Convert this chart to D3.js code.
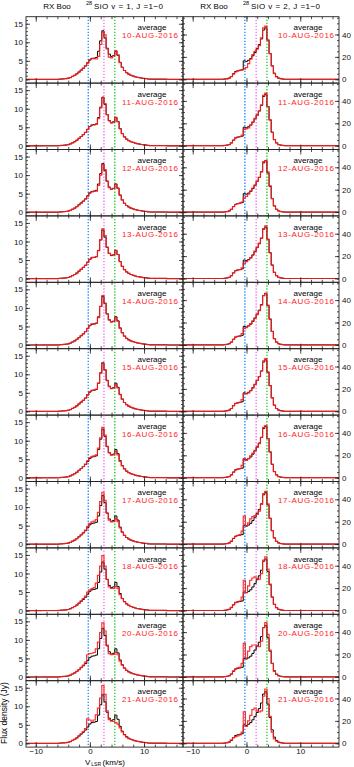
<!DOCTYPE html>
<html>
<head>
<meta charset="utf-8">
<script src="https://cdn.jsdelivr.net/npm/d3@7"></script>
<style>
body { margin: 0; background: #fff; }
svg { display: block; font-family: "Liberation Sans", Arial, sans-serif; }
.axis path { display: none; }
.axis line { stroke: #222; stroke-width: 0.8; }
.axis text { fill: #111; font-size: 8px; }
</style>
</head>
<body>
<svg class="chart"></svg>
<script>
var svgWidth = 354, svgHeight = 767,
    top0 = 16.7, panelH = 66.4,
    cols = [{x: 26, w: 157}, {x: 183, w: 156}];

var dates = ['10-AUG-2016', '11-AUG-2016', '12-AUG-2016', '13-AUG-2016', '14-AUG-2016', '15-AUG-2016',
             '16-AUG-2016', '17-AUG-2016', '18-AUG-2016', '20-AUG-2016', '21-AUG-2016'];

var xDomain = [-11.8, 17.2],
    xMajor = [-10, 0, 10],
    xMinor = [-10, -8, -6, -4, -2, 0, 2, 4, 6, 8, 10, 12, 14, 16];

// SiO v=1 (left column)
var velV1 = [-6.0, -5.6, -5.2, -4.8, -4.4, -4.0, -3.6, -3.2, -2.8, -2.4, -2.0, -1.6, -1.2, -0.8, -0.4, 0.0,
             0.4, 0.8, 1.2, 1.6, 2.0, 2.4, 2.8, 3.2, 3.6, 4.0, 4.4, 4.8, 5.2, 5.6, 6.0, 6.4, 6.8, 7.2,
             7.6, 8.0, 8.4, 8.8, 9.2, 9.6, 10.0, 10.4, 10.8, 11.2];
var avgV1 = [0, 0.05, 0.1, 0.15, 0.2, 0.3, 0.5, 0.8, 1.1, 1.5, 2.0, 2.5, 3.0, 3.6, 4.4, 5.2, 5.6, 5.7, 5.9, 7.6,
             10.4, 13.1, 11.2, 8.4, 6.8, 6.2, 6.4, 7.6, 6.5, 4.6, 3.3, 2.4, 1.8, 1.4, 1.1, 0.9, 0.7, 0.55,
             0.45, 0.35, 0.25, 0.2, 0.1, 0.05];
var dayV1 = [
  [0.02, 0.06, 0.08, 0.17, 0.21, 0.32, 0.48, 0.82, 1.1, 1.52, 1.98, 2.5, 3.05, 3.7, 4.5, 5.3, 5.7, 5.6, 5.5, 6.2, 9.4, 12.8, 12.0, 8.2, 6.0, 5.8, 6.3, 7.7, 6.6, 4.5, 3.2, 2.4, 1.8, 1.4, 1.1, 0.9, 0.7, 0.55, 0.45, 0.35, 0.25, 0.2, 0.1, 0.05],
  [0.01, 0.05, 0.11, 0.14, 0.22, 0.3, 0.52, 0.8, 1.12, 1.5, 2.02, 2.5, 3.0, 3.6, 4.4, 5.2, 5.6, 5.6, 5.8, 7.3, 10.2, 13.0, 11.4, 8.4, 6.7, 6.2, 6.5, 7.7, 6.5, 4.6, 3.3, 2.4, 1.8, 1.4, 1.1, 0.9, 0.7, 0.55, 0.45, 0.35, 0.25, 0.2, 0.1, 0.05],
  [0.03, 0.04, 0.1, 0.16, 0.19, 0.31, 0.5, 0.78, 1.1, 1.48, 2.0, 2.45, 2.95, 3.5, 4.3, 5.1, 5.5, 5.6, 5.7, 7.2, 10.0, 12.9, 11.5, 8.3, 6.6, 6.2, 6.4, 7.5, 6.4, 4.6, 3.3, 2.4, 1.8, 1.4, 1.1, 0.9, 0.7, 0.55, 0.45, 0.35, 0.25, 0.2, 0.1, 0.05],
  [0.0, 0.06, 0.09, 0.15, 0.2, 0.3, 0.5, 0.8, 1.1, 1.5, 2.0, 2.5, 3.0, 3.6, 4.4, 5.2, 5.7, 5.7, 5.9, 7.5, 10.5, 13.4, 11.6, 8.5, 6.8, 6.3, 6.4, 7.6, 6.5, 4.6, 3.3, 2.4, 1.8, 1.4, 1.1, 0.9, 0.7, 0.55, 0.45, 0.35, 0.25, 0.2, 0.1, 0.05],
  [0.02, 0.05, 0.1, 0.15, 0.21, 0.3, 0.5, 0.8, 1.1, 1.5, 2.0, 2.5, 3.0, 3.6, 4.5, 5.3, 5.7, 5.6, 5.8, 7.4, 10.4, 13.3, 11.3, 8.4, 6.7, 6.2, 6.4, 7.4, 6.4, 4.5, 3.3, 2.4, 1.8, 1.4, 1.1, 0.9, 0.7, 0.55, 0.45, 0.35, 0.25, 0.2, 0.1, 0.05],
  [0.01, 0.05, 0.1, 0.15, 0.2, 0.3, 0.5, 0.8, 1.1, 1.5, 2.0, 2.5, 3.0, 3.6, 4.5, 5.3, 5.7, 5.8, 6.0, 7.6, 10.3, 13.0, 11.2, 8.3, 6.7, 6.1, 6.3, 7.3, 6.3, 4.5, 3.3, 2.4, 1.8, 1.4, 1.1, 0.9, 0.7, 0.55, 0.45, 0.35, 0.25, 0.2, 0.1, 0.05],
  [0.02, 0.05, 0.1, 0.15, 0.2, 0.3, 0.5, 0.8, 1.1, 1.5, 2.0, 2.5, 3.05, 3.7, 4.6, 5.4, 5.8, 5.9, 6.2, 8.0, 10.8, 13.6, 11.5, 8.5, 6.7, 6.1, 6.2, 7.1, 6.2, 4.4, 3.2, 2.4, 1.8, 1.4, 1.1, 0.9, 0.7, 0.55, 0.45, 0.35, 0.25, 0.2, 0.1, 0.05],
  [0.02, 0.05, 0.1, 0.15, 0.2, 0.3, 0.5, 0.8, 1.1, 1.5, 2.0, 2.55, 3.1, 3.8, 4.8, 5.6, 6.0, 6.2, 6.6, 8.6, 11.5, 14.0, 11.8, 8.4, 6.5, 6.0, 6.1, 6.9, 6.1, 4.4, 3.2, 2.4, 1.8, 1.4, 1.1, 0.9, 0.7, 0.55, 0.45, 0.35, 0.25, 0.2, 0.1, 0.05],
  [0.02, 0.05, 0.1, 0.15, 0.2, 0.3, 0.5, 0.8, 1.1, 1.5, 2.0, 2.6, 3.2, 3.9, 5.0, 5.6, 5.9, 6.2, 7.4, 9.5, 12.0, 14.8, 12.0, 8.4, 6.4, 6.0, 6.0, 6.5, 6.0, 4.3, 3.2, 2.4, 1.8, 1.4, 1.1, 0.9, 0.7, 0.55, 0.45, 0.35, 0.25, 0.2, 0.1, 0.05],
  [0.02, 0.05, 0.1, 0.15, 0.2, 0.3, 0.5, 0.8, 1.1, 1.5, 2.0, 2.6, 3.2, 4.0, 6.0, 6.3, 6.4, 6.6, 7.6, 9.4, 12.0, 14.6, 12.4, 8.6, 6.3, 6.0, 6.1, 6.6, 6.0, 4.3, 3.2, 2.4, 1.8, 1.4, 1.1, 0.9, 0.7, 0.55, 0.45, 0.35, 0.25, 0.2, 0.1, 0.05],
  [0.02, 0.05, 0.1, 0.15, 0.2, 0.3, 0.5, 0.8, 1.1, 1.5, 2.0, 2.6, 3.2, 4.0, 6.6, 6.3, 6.0, 6.3, 7.7, 9.5, 12.2, 15.6, 13.2, 8.8, 6.4, 6.0, 5.9, 5.6, 5.2, 4.2, 3.1, 2.3, 1.7, 1.3, 1.05, 0.85, 0.7, 0.55, 0.45, 0.35, 0.25, 0.2, 0.1, 0.05]
];
var linesV1 = [-0.3, 2.6, 4.6];

// SiO v=2 (right column)
var velV2 = [-4.4, -4.0, -3.6, -3.2, -2.8, -2.4, -2.0, -1.6, -1.2, -0.8, -0.4, 0.0, 0.4, 0.8, 1.2, 1.6,
             2.0, 2.4, 2.8, 3.2, 3.6, 4.0, 4.4, 4.8, 5.2, 5.6, 6.0, 6.4, 6.8, 7.2];
var avgV2 = [0, 0.2, 0.5, 1.0, 2.5, 5.0, 7.0, 7.6, 8.0, 8.5, 16.5, 16.0, 17.0, 18.5, 21.0, 24.0, 27.5, 31.0,
             36.0, 44.0, 46.0, 35.0, 23.0, 12.0, 5.5, 2.5, 1.0, 0.5, 0.2, 0];
var dayV2 = [
  [0, 0.3, 0.4, 1.1, 2.3, 4.6, 6.5, 7.5, 8.0, 8.5, 9.0, 10.5, 14.0, 18.0, 22.0, 25.0, 27.0, 30.0, 37.0, 46.0, 47.5, 35.0, 23.0, 12.0, 5.0, 2.2, 1.0, 0.5, 0.2, 0],
  [0, 0.2, 0.5, 1.0, 2.6, 5.0, 7.0, 7.6, 8.2, 9.5, 14.5, 15.0, 16.0, 18.5, 21.0, 24.5, 27.0, 31.0, 36.5, 45.0, 47.0, 35.0, 23.0, 12.0, 5.5, 2.4, 1.0, 0.5, 0.2, 0],
  [0, 0.2, 0.5, 1.0, 2.4, 4.8, 6.8, 7.5, 8.0, 9.0, 12.5, 14.0, 16.0, 19.0, 21.5, 24.0, 27.5, 31.0, 36.0, 45.0, 46.0, 36.0, 23.5, 12.0, 5.5, 2.5, 1.0, 0.5, 0.2, 0],
  [0, 0.2, 0.5, 1.0, 2.5, 5.0, 7.0, 7.7, 8.0, 9.5, 13.5, 15.0, 16.5, 18.5, 21.0, 24.5, 28.0, 31.5, 36.0, 44.5, 47.0, 35.0, 23.0, 12.0, 5.5, 2.5, 1.0, 0.5, 0.2, 0],
  [0, 0.2, 0.5, 1.0, 2.5, 5.0, 7.0, 7.6, 7.8, 10.0, 14.5, 15.5, 17.0, 19.0, 21.5, 24.0, 27.0, 30.5, 35.5, 44.0, 46.0, 35.5, 23.0, 12.0, 5.5, 2.5, 1.0, 0.5, 0.2, 0],
  [0, 0.2, 0.5, 1.0, 2.5, 5.0, 7.0, 7.6, 8.0, 10.5, 15.5, 15.5, 16.5, 18.5, 21.0, 24.0, 27.5, 31.0, 36.0, 45.0, 47.0, 35.0, 23.0, 12.0, 5.5, 2.5, 1.0, 0.5, 0.2, 0],
  [0, 0.2, 0.5, 1.0, 2.5, 5.0, 7.0, 7.7, 8.2, 11.0, 17.0, 15.5, 17.0, 19.5, 22.0, 24.5, 27.0, 30.5, 36.0, 45.0, 46.5, 35.0, 23.0, 12.0, 5.5, 2.5, 1.0, 0.5, 0.2, 0],
  [0, 0.2, 0.5, 1.0, 2.6, 5.2, 7.0, 7.8, 8.5, 11.5, 25.0, 16.5, 19.0, 22.5, 24.5, 25.5, 26.5, 29.5, 35.5, 45.0, 47.0, 36.0, 23.0, 12.0, 5.5, 2.5, 1.0, 0.5, 0.2, 0],
  [0, 0.2, 0.5, 1.0, 2.7, 5.3, 7.2, 8.0, 8.5, 12.0, 27.0, 16.0, 22.0, 27.0, 29.0, 30.0, 28.5, 28.0, 33.0, 45.0, 48.0, 37.0, 23.5, 12.0, 5.5, 2.5, 1.0, 0.5, 0.2, 0],
  [0, 0.2, 0.5, 1.0, 2.7, 5.3, 7.2, 8.0, 8.5, 12.0, 30.0, 17.0, 23.0, 27.0, 28.5, 28.5, 27.5, 27.0, 32.0, 44.0, 48.5, 38.0, 24.0, 12.0, 5.0, 2.3, 1.0, 0.5, 0.2, 0],
  [0, 0.3, 0.6, 1.2, 3.0, 5.0, 6.0, 6.5, 7.5, 10.0, 28.0, 15.0, 20.0, 25.0, 30.0, 31.5, 29.0, 28.0, 29.0, 42.0, 48.5, 40.0, 24.0, 10.0, 4.0, 2.0, 1.0, 0.5, 0.2, 0]
];
var linesV2 = [-0.3, 1.8, 3.8];

var lineColors = ['#2b8fff', '#f07af0', '#33cc33'];

var columns = [
  {vel: velV1, avg: avgV1, days: dayV1, lines: linesV1, yDomain: [-1.0, 16.9],
   yMajor: [0, 5, 10, 15], yMinor: d3.range(0, 17, 1), title: 'SiO v = 1, J =1\u22120'},
  {vel: velV2, avg: avgV2, days: dayV2, lines: linesV2, yDomain: [-3.4, 55.9],
   yMajor: [0, 20, 40], yMinor: d3.range(0, 56, 5), title: 'SiO v = 2, J =1\u22120'}
];

var svg = d3.select('.chart')
    .attr('width', svgWidth)
    .attr('height', svgHeight);

var toSeries = function(vel, vals) {
  var s = vel.map(function(v, i) { return {v: v, f: vals[i]}; });
  return [{v: xDomain[0], f: 0}].concat(s, [{v: xDomain[1], f: 0}]);
};

columns.forEach(function(col, c) {
  var geo = cols[c];
  var xScale = d3.scaleLinear().domain(xDomain).range([0, geo.w]);
  var yScale = d3.scaleLinear().domain(col.yDomain).range([panelH, 0]);
  var line = d3.line()
      .x(function(d) { return xScale(d.v); })
      .y(function(d) { return yScale(d.f); })
      .curve(d3.curveStep);

  svg.append('clipPath').attr('id', 'clip' + c)
    .append('rect').attr('width', geo.w).attr('height', panelH);

  dates.forEach(function(date, p) {
    var last = p === dates.length - 1;
    var g = svg.append('g')
        .attr('transform', 'translate(' + geo.x + ',' + (top0 + p * panelH) + ')');

    // marker velocities
    g.selectAll('.vline')
      .data(col.lines)
      .enter().append('line')
        .attr('x1', function(d) { return xScale(d); })
        .attr('x2', function(d) { return xScale(d); })
        .attr('y1', 0).attr('y2', panelH)
        .attr('stroke', function(d, i) { return lineColors[i]; })
        .attr('stroke-width', 1.4)
        .attr('stroke-dasharray', '1.4,1.6');

    var spectra = g.append('g').attr('clip-path', 'url(#clip' + c + ')');
    spectra.append('path')
      .datum(toSeries(col.vel, col.avg))
      .attr('d', line)
      .attr('fill', 'none')
      .attr('stroke', '#000')
      .attr('stroke-width', 1);
    spectra.append('path')
      .datum(toSeries(col.vel, col.days[p]))
      .attr('d', line)
      .attr('fill', 'none')
      .attr('stroke', '#ff1c1c')
      .attr('stroke-opacity', 0.9)
      .attr('stroke-width', 1.2);

    // frame
    g.append('rect')
      .attr('width', geo.w).attr('height', panelH)
      .attr('fill', 'none').attr('stroke', '#222').attr('stroke-width', 0.9);

    // x ticks, top and bottom
    g.append('g').attr('class', 'axis')
      .call(d3.axisTop(xScale).tickValues(xMinor).tickSize(-2.5).tickFormat(''));
    g.append('g').attr('class', 'axis')
      .call(d3.axisTop(xScale).tickValues(xMajor).tickSize(-5).tickFormat(''));
    g.append('g').attr('class', 'axis').attr('transform', 'translate(0,' + panelH + ')')
      .call(d3.axisBottom(xScale).tickValues(xMinor).tickSize(-2.5).tickFormat(''));
    g.append('g').attr('class', 'axis').attr('transform', 'translate(0,' + panelH + ')')
      .call(d3.axisBottom(xScale).tickValues(xMajor).tickSize(-5).tickPadding(1.5)
        .tickFormat(last ? d3.format('d') : ''));

    // y ticks, left and right
    var labelLeft = c === 0, labelRight = c === 1;
    g.append('g').attr('class', 'axis')
      .call(d3.axisLeft(yScale).tickValues(col.yMinor).tickSize(-2).tickFormat(''));
    g.append('g').attr('class', 'axis')
      .call(d3.axisLeft(yScale).tickValues(col.yMajor).tickSize(-4).tickPadding(3)
        .tickFormat(labelLeft ? d3.format('d') : ''));
    g.append('g').attr('class', 'axis').attr('transform', 'translate(' + geo.w + ',0)')
      .call(d3.axisRight(yScale).tickValues(col.yMinor).tickSize(-2).tickFormat(''));
    g.append('g').attr('class', 'axis').attr('transform', 'translate(' + geo.w + ',0)')
      .call(d3.axisRight(yScale).tickValues(col.yMajor).tickSize(-4).tickPadding(3)
        .tickFormat(labelRight ? d3.format('d') : ''));

    g.append('text')
      .attr('x', geo.w - 31).attr('y', 13.8)
      .attr('text-anchor', 'middle')
      .attr('font-size', '8px').attr('fill', '#000')
      .text('average');
    g.append('text')
      .attr('x', geo.w - 33).attr('y', 21.6)
      .attr('text-anchor', 'middle')
      .attr('font-size', '8px').attr('fill', '#ff1c1c')
      .attr('textLength', 56).attr('lengthAdjust', 'spacing')
      .text(date);
  });

  // column title
  svg.append('text')
    .attr('x', geo.x + 31).attr('y', 9.3)
    .attr('text-anchor', 'middle').attr('font-size', '8px')
    .text('RX Boo');
  svg.append('text')
    .attr('x', geo.x + 60).attr('y', 5)
    .attr('font-size', '5.5px')
    .text('28');
  svg.append('text')
    .attr('x', geo.x + 68).attr('y', 9.3)
    .attr('font-size', '8px')
    .attr('textLength', 69).attr('lengthAdjust', 'spacing')
    .text(col.title);
});

// axis titles
var xt = svg.append('text').attr('x', 85).attr('y', 765).attr('font-size', '8px');
xt.append('tspan').text('V');
xt.append('tspan').attr('font-size', '5px').attr('dy', 1.2).attr('dx', 1).text('LSR');
xt.append('tspan').attr('dy', -1.2).attr('dx', 1.5).text('(km/s)');

svg.append('text')
  .attr('transform', 'translate(7,713) rotate(-90)')
  .attr('text-anchor', 'middle')
  .attr('font-size', '8.5px')
  .text('Flux density (Jy)');
</script>
</body>
</html>
